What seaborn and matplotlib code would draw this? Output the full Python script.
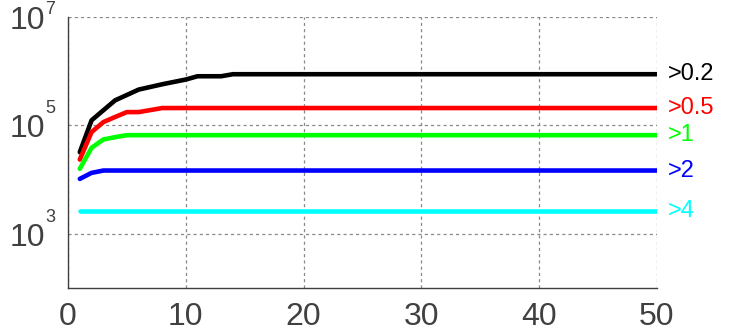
import numpy as np
import pandas as pd
import matplotlib
matplotlib.use('Agg')
import matplotlib.pyplot as plt
import seaborn as sns

# datos (solo los vertices visibles)
etiquetas = ['>0.2', '>0.5', '>1', '>2', '>4']
colores = ['#000000', '#ff0000', '#00ff00', '#0000ff', '#00ffff']

x_02 = [1, 2, 3, 4, 6, 8, 10, 11, 13, 14, 50]
y_02 = [32000, 124000, 190000, 290000, 458000, 574000, 702000, 807000, 807000, 880000, 880000]

x_05 = [1, 2, 3, 4, 5, 6, 8, 50]
y_05 = [23400, 75200, 115000, 143000, 176000, 176000, 209000, 209000]

x_1 = [1, 2, 3, 4, 5, 50]
y_1 = [15800, 38600, 55000, 60700, 66000, 66000]

x_2 = [1, 2, 3, 50]
y_2 = [10300, 13300, 14700, 14700]

x_4 = [1, 50]
y_4 = [2670, 2670]

xs = [x_02, x_05, x_1, x_2, x_4]
ys = [y_02, y_05, y_1, y_2, y_4]

ticks_y = [1e3, 1e5, 1e7]
exponentes = ['3', '5', '7']
ticks_x = [0, 10, 20, 30, 40, 50]

filas = []
for et, xx, yy in zip(etiquetas, xs, ys):
    for a, b in zip(xx, yy):
        filas.append({'x': a, 'y': b, 'serie': et})
df = pd.DataFrame(filas)

sns.set_style('white')
plt.rcParams['font.family'] = ['Liberation Sans', 'DejaVu Sans']

fig = plt.figure(figsize=(7.32, 3.31), dpi=100)
ax = fig.add_axes([0.0929, 0.130, 0.8046, 0.8186])

paleta = dict(zip(etiquetas, colores))
sns.lineplot(data=df, x='x', y='y', hue='serie', palette=paleta, estimator=None,
             sort=False, legend=False, linewidth=3.3, ax=ax)

ax.set_yscale('log')
ax.set_xlim(0, 50)
ax.set_ylim(1e2, 1e7)
ax.set_xticks(ticks_x)
ax.set_yticks(ticks_y)
ax.set_yticklabels([])
ax.minorticks_off()
ax.tick_params(axis='both', length=0, colors='#404040')
ax.tick_params(axis='x', labelsize=23, pad=10)
ax.set_xlabel('')
ax.set_ylabel('')

# etiquetas del eje y: base 10 y exponente aparte
# (el 7 de arriba se baja un poco para que no quede cortado)
subida = [8.6, 8.6, 2.5]
for t, e, s in zip(ticks_y, exponentes, subida):
    ax.annotate('10', xy=(0, t), xycoords=('axes fraction', 'data'),
                xytext=(-16.6, -8.6), textcoords='offset points',
                ha='right', va='baseline', fontsize=23, color='#404040',
                annotation_clip=False)
    ax.annotate(e, xy=(0, t), xycoords=('axes fraction', 'data'),
                xytext=(-16.2, s), textcoords='offset points',
                ha='left', va='baseline', fontsize=13, color='#404040',
                annotation_clip=False)

ax.grid(True, color='#888888', linestyle=(0, (2.5, 2.5)), linewidth=0.9)
for s in ['top', 'right']:
    ax.spines[s].set_visible(False)
for s in ['left', 'bottom']:
    ax.spines[s].set_color('#404040')
    ax.spines[s].set_linewidth(1.0)

for et, c, yy in zip(etiquetas, colores, ys):
    ax.text(50.9, yy[-1], et, color=c, fontsize=17, va='center', ha='left', clip_on=False)

fig.savefig('out.png', dpi=100)
